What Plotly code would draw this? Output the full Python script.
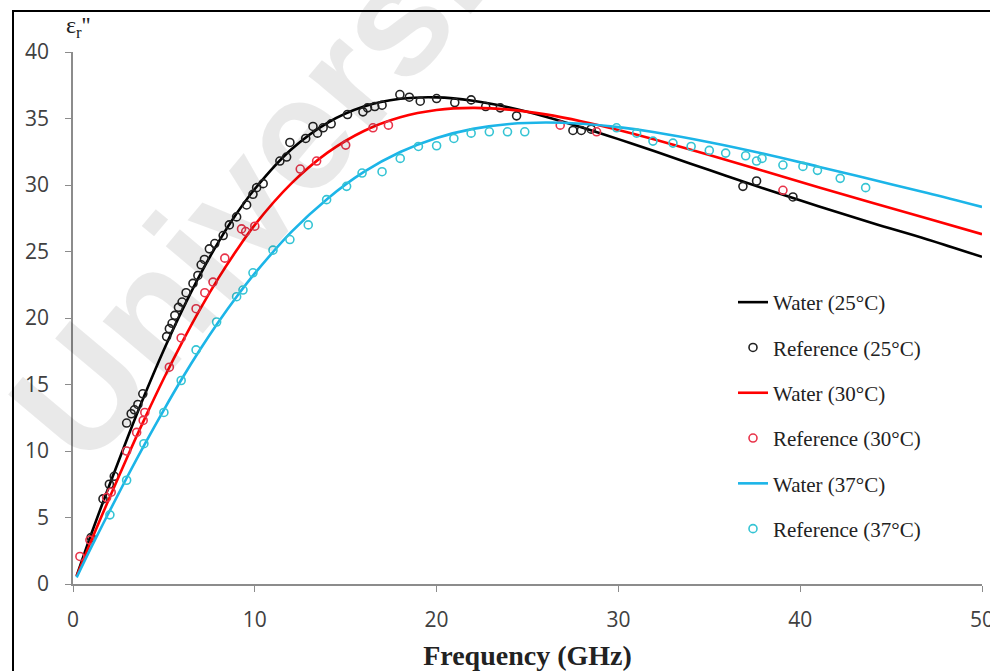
import plotly.graph_objects as go

# ---- model curves ----
freq_line = [0.2, 1, 2, 3, 4, 5, 6, 7, 8, 9, 10, 12, 14, 16, 18, 20, 22, 24, 26, 28,
             30, 32, 35, 38, 41, 44, 47, 50]
water25 = [0.6, 3.74, 7.43, 11.0, 14.41, 17.61, 20.57, 23.28, 25.71, 27.85, 29.7, 32.67,
           34.68, 35.9, 36.48, 36.59, 36.34, 35.83, 35.14, 34.33, 33.45, 32.53, 31.12,
           29.73, 28.4, 27.12, 25.91, 24.6]
water30 = [0.6, 3.25, 6.46, 9.59, 12.6, 15.47, 18.17, 20.69, 23.0, 25.09, 27.0, 30.1,
           32.43, 34.06, 35.09, 35.64, 35.8, 35.67, 35.31, 34.78, 34.14, 33.42, 32.26,
           31.05, 29.83, 28.64, 27.49, 26.3]
water37 = [0.5, 2.75, 5.45, 8.1, 10.65, 13.1, 15.45, 17.65, 19.7, 21.6, 23.35, 26.45,
           28.97, 30.98, 32.48, 33.54, 34.22, 34.59, 34.7, 34.6, 34.35, 33.97, 33.22,
           32.35, 31.38, 30.39, 29.4, 28.35]

# ---- reference points ----
ref25_x = [1.0, 1.65, 2.0, 2.27, 2.95, 3.2, 3.38, 3.57, 3.84, 5.15, 5.3, 5.45, 5.6, 5.8,
           6.0, 6.22, 6.6, 6.87, 7.05, 7.23, 7.5, 7.8, 8.26, 8.6, 9.0, 9.55, 9.9, 10.1,
           10.46, 11.38, 11.75, 11.93, 12.8, 13.2, 13.45, 13.76, 14.2, 15.1, 15.95, 16.2,
           16.6, 17.0, 17.98, 18.5, 19.1, 20.0, 21.0, 21.9, 22.7, 23.5, 24.4, 27.5, 27.96,
           28.5, 36.85, 37.6, 39.6]
ref25_y = [3.5, 6.4, 7.5, 8.1, 12.1, 12.8, 13.1, 13.5, 14.3, 18.6, 19.2, 19.6, 20.2, 20.8,
           21.2, 21.9, 22.6, 23.2, 24.0, 24.4, 25.2, 25.6, 26.2, 27.0, 27.6, 28.5, 29.3, 29.8,
           30.1, 31.8, 32.1, 33.2, 33.5, 34.4, 33.9, 34.3, 34.6, 35.3, 35.5, 35.8,
           35.9, 36.0, 36.8, 36.6, 36.3, 36.5, 36.2, 36.4, 35.9, 35.8, 35.2, 34.1, 34.1,
           34.2, 29.9, 30.3, 29.1]

ref30_x = [0.38, 0.93, 1.85, 2.1, 2.95, 3.5, 3.86, 3.95, 5.3, 5.95, 6.77, 7.25, 7.7, 8.35,
           9.27, 9.5, 10.0, 12.5, 13.4, 15.0, 16.5, 17.35, 26.8, 28.8, 39.05]
ref30_y = [2.07, 3.3, 6.5, 6.9, 10.0, 11.4, 12.3, 12.9, 16.3, 18.5, 20.7, 21.9, 22.7, 24.5,
           26.7, 26.5, 26.9, 31.2, 31.8, 33.0, 34.3, 34.5, 34.5, 34.0, 29.6]

ref37_x = [2.03, 2.95, 3.9, 5.0, 5.95, 6.77, 7.9, 9.0, 9.35, 9.9, 11.0, 11.93, 12.94, 13.95,
           15.05, 15.9, 17.0, 18.0, 19.0, 20.0, 20.95, 21.9, 22.9, 23.9, 24.85, 29.9, 31.0,
           31.9, 33.0, 34.0, 35.0, 35.9, 37.0, 37.6, 37.9, 39.05, 40.15, 40.95, 42.2, 43.6]
ref37_y = [5.2, 7.8, 10.55, 12.9, 15.3, 17.6, 19.7, 21.6, 22.1, 23.4, 25.1, 25.9, 27.0, 28.9,
           29.9, 30.9, 31.0, 32.0, 32.9, 32.95, 33.5, 33.9, 34.0, 34.0, 34.0, 34.3, 33.9,
           33.3, 33.15, 32.9, 32.6, 32.4, 32.2, 31.8, 32.0, 31.5, 31.4, 31.1, 30.5, 29.8]

x_ticks = [0, 10, 20, 30, 40, 50]
y_ticks = [0, 5, 10, 15, 20, 25, 30, 35, 40]

series = [
    ("Water (25°C)", "Reference (25°C)", water25, ref25_x, ref25_y, "#000000", "#222222"),
    ("Water (30°C)", "Reference (30°C)", water30, ref30_x, ref30_y, "#FF0000", "#E8344A"),
    ("Water (37°C)", "Reference (37°C)", water37, ref37_x, ref37_y, "#1CB5E8", "#35C4D4"),
]

fig = go.Figure()
for i, (lname, rname, wy, rx, ry, lc, mc) in enumerate(series):
    fig.add_trace(go.Scatter(
        x=freq_line, y=wy, mode="lines", name=lname,
        line=dict(color=lc, width=2.6, shape="spline", smoothing=1.0),
        legendgroup=f"g{2*i}"))
    fig.add_trace(go.Scatter(
        x=rx, y=ry, mode="markers", name=rname,
        marker=dict(symbol="circle-open", size=8, color=mc, line=dict(width=1.6, color=mc)),
        legendgroup=f"g{2*i+1}"))

L, R, T, B = 73, 8, 52, 87
W, H = 990, 671
pw, ph = W - L - R, H - T - B

def px(xp):
    return (xp - L) / pw

def py(yp):
    return (H - B - yp) / ph

tickfont = dict(family="Open Sans", size=21, color="#404040")

fig.update_layout(
    width=W, height=H,
    margin=dict(l=L, r=R, t=T, b=B, pad=0, autoexpand=False),
    paper_bgcolor="white", plot_bgcolor="white",
    showlegend=True,
    legend=dict(
        x=px(733), y=py(282), xanchor="left", yanchor="top",
        bgcolor="rgba(0,0,0,0)", borderwidth=0,
        font=dict(family="Liberation Serif", size=21, color="#222222"),
        tracegroupgap=15, itemwidth=30,
    ),
    xaxis=dict(
        range=[0, 50], tickvals=x_ticks, ticktext=[str(v) for v in x_ticks],
        showgrid=False, zeroline=False, showline=True, linecolor="#8c8c8c", linewidth=1.5,
        ticks="outside", ticklen=6, tickcolor="#8c8c8c", tickwidth=1.3,
        tickfont=tickfont, ticklabelstandoff=10, ticklabeloverflow="allow",
        automargin=False,
        title=dict(text="<b>Frequency (GHz)</b>", standoff=14,
                   font=dict(family="Liberation Serif", size=28, color="#222222")),
    ),
    yaxis=dict(
        range=[0, 40], tickvals=y_ticks, ticktext=[str(v) for v in y_ticks],
        showgrid=False, zeroline=False, showline=True, linecolor="#8c8c8c", linewidth=1.5,
        ticks="outside", ticklen=6, tickcolor="#8c8c8c", tickwidth=1.3,
        tickfont=tickfont, ticklabelstandoff=12, ticklabeloverflow="allow",
        automargin=False,
    ),
    annotations=[
        dict(text="ε<sub>r</sub>''", xref="paper", yref="paper", x=px(64), y=py(27),
             xanchor="left", yanchor="middle", showarrow=False,
             font=dict(family="Liberation Serif", size=24, color="#222222")),
        dict(text="<b>University</b>", xref="paper", yref="paper", x=px(292), y=py(140),
             xanchor="center", yanchor="middle", showarrow=False, textangle=-50,
             font=dict(family="Liberation Sans", size=160, color="rgba(0,0,0,0.085)")),
    ],
    shapes=[
        dict(type="rect", xref="paper", yref="paper", x0=px(13), x1=px(1000),
             y0=py(700), y1=py(11), line=dict(color="black", width=2), layer="above"),
    ],
)

fig.write_html("out.html")
